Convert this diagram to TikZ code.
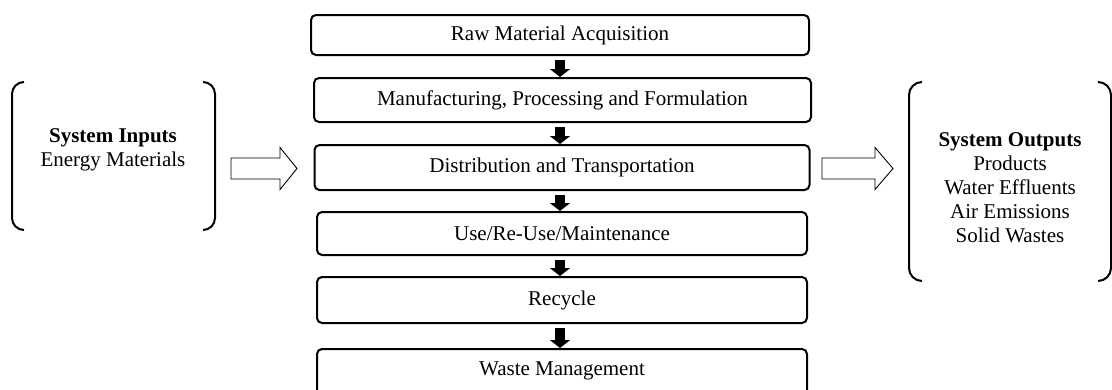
\documentclass[tikz,border=0pt]{standalone}
\usepackage{fontspec}
\setmainfont{Liberation Serif}
\usetikzlibrary{calc,arrows.meta}
\begin{document}
\begin{tikzpicture}[x=1pt,y=-1pt,
  stage/.style={draw,line width=2pt,rounded corners=5pt,inner sep=0pt,font=\fontsize{21}{24}\selectfont},
  down/.style={line width=10pt,-{Triangle[width=20pt,length=8pt]},shorten <=4pt},
  hollowline/.style={line width=0.9pt,fill=white,line join=miter},
  brk/.style={line width=2pt},
  lbl/.style={align=center,font=\fontsize{21}{24}\selectfont,inner sep=0pt}]
\useasboundingbox (0,0) rectangle (1112,389);
\node[stage,minimum width=498pt,minimum height=40pt] (s1) at (560,35) {Raw Material Acquisition};
\node[stage,minimum width=497pt,minimum height=44pt] (s2) at (562.5,100) {Manufacturing, Processing and Formulation};
\node[stage,minimum width=495pt,minimum height=45pt] (s3) at (562,167.5) {Distribution and Transportation};
\node[stage,minimum width=490pt,minimum height=43pt] (s4) at (562,233.5) {Use/Re-Use/Maintenance};
\node[stage,minimum width=490pt,minimum height=46pt] (s5) at (562,300) {Recycle};
\node[stage,minimum width=490pt,minimum height=54pt,text depth=14pt] (s6) at (562,376) {Waste Management};
\foreach \a/\b in {s1/s2,s2/s3,s3/s4,s4/s5,s5/s6}
  \draw[down] (\a.south -| 560,0) -- (\b.north -| 560,0);
% left bracket group
\node[lbl] (in) at (113,150) {\textbf{System Inputs}\\Energy Materials};
\draw[brk] (24,82) arc[start angle=-90,end angle=-180,radius=12] -- (12,218) arc[start angle=180,end angle=90,radius=12];
\draw[brk] (203,82) arc[start angle=-90,end angle=0,radius=12] -- (215,218) arc[start angle=0,end angle=90,radius=12];
\coordinate (hin) at (231,168.5);
\draw[hollowline] (hin) ++(0,-10.5) -- ++(49,0) -- ++(0,-10.5) -- ++(17,21) -- ++(-17,21) -- ++(0,-10.5) -- ++(-49,0) -- cycle;
% right bracket group
\node[lbl] (out) at (1010,188) {\textbf{System Outputs}\\Products\\Water Effluents\\Air Emissions\\Solid Wastes};
\draw[brk] (922,82) arc[start angle=-90,end angle=-180,radius=13] -- (909,268) arc[start angle=180,end angle=90,radius=13];
\draw[brk] (1098,82) arc[start angle=-90,end angle=0,radius=13] -- (1111,268) arc[start angle=0,end angle=90,radius=13];
\coordinate (hout) at (822,168.5);
\draw[hollowline] (hout) ++(0,-10.5) -- ++(53,0) -- ++(0,-10.5) -- ++(18,21) -- ++(-18,21) -- ++(0,-10.5) -- ++(-53,0) -- cycle;
\end{tikzpicture}
\end{document}
